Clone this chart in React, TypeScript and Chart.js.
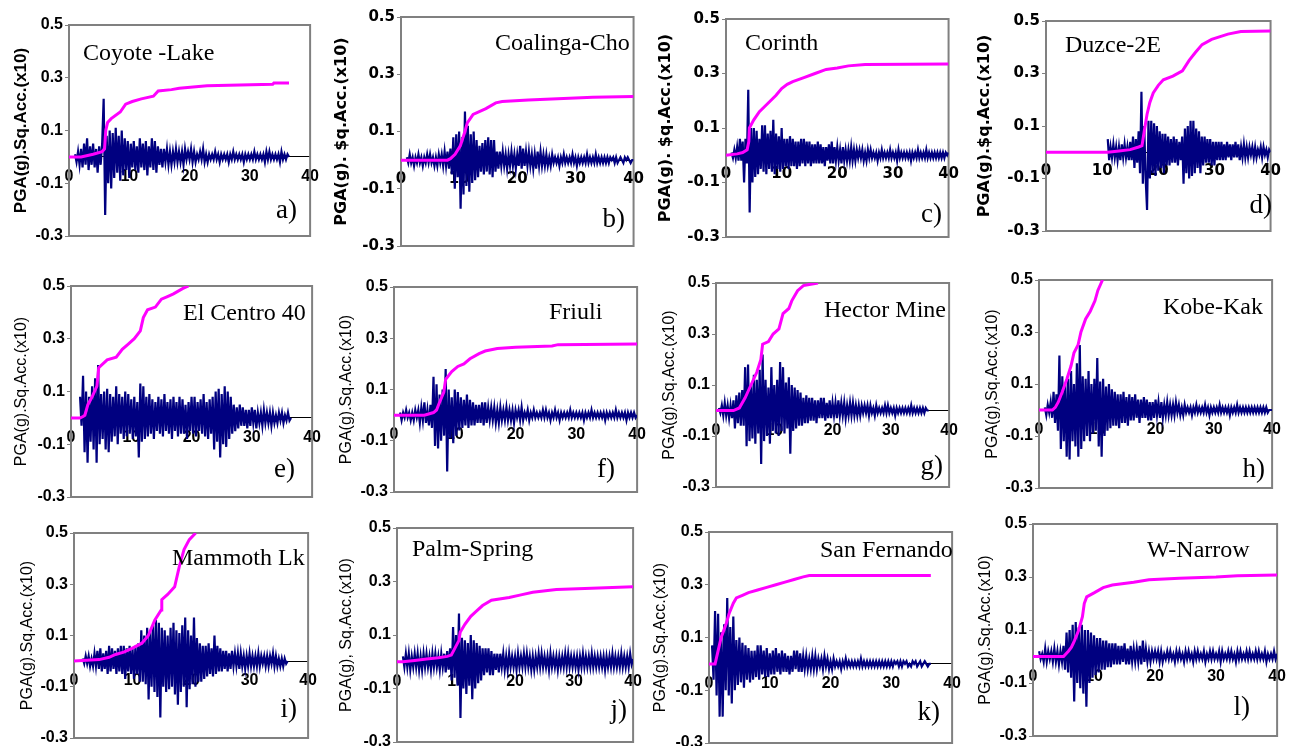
import React, { useEffect, useRef } from "react";
import { Chart, registerables } from "chart.js";

Chart.register(...registerables);

// ---------- DATA (values in hundredths: value * UNIT) ----------
const UNIT = 0.01;
const DT = 0.25; // sampling step of the read-off accelerograms (s)

const xTicks = [0, 10, 20, 30, 40];
const yTicks = [-0.3, -0.1, 0.1, 0.3, 0.5];

const panelNames = ["Coyote -Lake", "Coalinga-Cho", "Corinth", "Duzce-2E", "El Centro 40", "Friuli", "Hector Mine", "Kobe-Kak", "Mammoth Lk", "Palm-Spring", "San Fernando", "W-Narrow"];
const panelLetters = ["a)", "b)", "c)", "d)", "e)", "f)", "g)", "h)", "i)", "j)", "k)", "l)"];
const yTitles = [
  "PGA(g).Sq.Acc.(x10)", "PGA(g). $q.Acc.(x10)", "PGA(g). $q.Acc.(x10)", "PGA(g).$q.Acc.(x10)",
  "PGA(g).Sq.Acc.(x10)", "PGA(g).Sq.Acc.(x10)", "PGA(g).Sq.Acc.(x10)", "PGA(g),Sq.Acc.(x10)",
  "PGA(g).Sq.Acc.(x10)", "PGA(g), Sq.Acc.(x10)", "PGA(g).Sq.Acc.(x10)", "PGA(g).Sq.Acc.(x10)",
];

// start time (s) of each accelerogram
const accStarts = [1, 1, 1, 11, 1.5, 1, 0.5, 1, 1.5, 1, 0.5, 1];

const coyoteAcc = [1,-2,2,-3, 3,-4,5,-3, 7,-5,4,-3, 5,-4,3,-6, 4,-3,5,22, -22,8,-10,10, -12,9,-8,11, -6,8,-9,10, -7,7,-5,6, -8,5,-4,6, -5,4,-6,7, -4,5,-5,6, -7,4,-4,7, -5,6,-6,4, -3,3,-4,3, -2,3,-3,2, -3,2,-2,3, -2,2,-2,2, -3,3,-1,2, -1,3,-2,2, -2,1,-1,2, -1,3,-2,1, -2,1,-1,1, -1,2,-1,1, -2,1,-1,1, -1,1,-2,1, -1,2,-1,1, -1,1,-1,1, -2,1,-1,1, -1,1,-1,2, -1,1,-1,1, -1,1,-2,2, -1,2,-1,1, -1,1,-1,1, -2,2,-1,1, -1,1,0];
const coalingaAcc = [1,-1,2,-1, 1,-2,1,-1, 2,-1,1,-2, 1,-1,2,-1, 2,-1,1,-2, 1,-2,2,-1, 2,-2,3,-2, 3,-3,4,-5, 8,-10,9,-6, 10,-17,8,-12, 17,-9,12,-11, 9,-8,10,-7, 7,-6,5,-4, 6,-5,7,-4, 8,-5,7,-6, 7,-4,3,-3, 3,-2,3,-2, 2,-3,2,-2, 3,-2,2,-3, 2,-2,5,-3, 4,-2,3,-2, 3,-2,2,-3, 2,-3,3,-2, 3,-2,2,-2, 2,-2,1,-2, 2,-1,1,-1, 1,-2,1,-1, 2,-1,1,-1, 1,-1,2,-1, 1,-2,1,-1, 1,-1,1,-1, 2,-1,1,-1, 1,-1,2,-1, 1,-1,1,-1, 1,-1,1,-1, 1,0,1,-1, 1,-1,0,1, 0,-1,1,0, 1,0,-1,0, 0];
const corinthAcc = [1,-1,2,-1, 3,-2,6,-2, 5,-10,6,-3, 24,-21,10,-10, 10,-8,9,-7, 6,-5,11,-6, 11,-7,8,-5, 9,-6,13,-7, 8,-5,7,-6, 10,-5,6,-4, 6,-5,7,-4, 6,-4,5,-5, 5,-4,6,-3, 6,-4,5,-3, 5,-4,4,-3, 4,-3,5,-3, 4,-3,3,-4, 3,-2,4,-3, 5,-3,3,-2, 3,-2,2,-3, 3,-2,2,-2, 2,-2,3,-2, 2,-2,2,-1, 2,-1,2,-2, 1,-2,2,-1, 2,-1,1,-1, 1,-2,1,-1, 2,-1,1,-1, 1,-1,2,-1, 1,-1,1,-2, 2,-1,1,-1, 1,-1,1,-1, 1,-2,1,-1, 1,-1,2,-1, 1,-1,1,-1, 2,-1,1,-1, 1,-1,1,-1, 1,-1,1,-1, 1,-1,1,0, 1];
const duzceAcc = [5,-3,2,-2, 3,-2,2,-3, 2,-3,3,-2, 3,-2,2,-3, 4,-3,6,-6, 5,-4,8,-8, 23,-12,10,-10, -22,12,-10,12, -8,11,-9,10, -7,8,-6,7, -8,7,-5,6, -5,5,-4,6, -4,5,-5,4, -3,6,-12,9, -8,10,-10,12, -9,12,-8,9, -6,8,-8,6, -5,6,-4,5, -4,5,-5,4, -5,4,-3,4, -3,4,-3,3, -3,4,-2,3, -3,3,-2,4, -2,3,-3,2, -2,3,-2,2, -2,2,-1,2, -2,2,-2,1, -1,2,-2,2, -1,1,-2,1, 0];
const elCentroAcc = [8,-3,16,-13, 10,-17,8,-9, 12,-12,15,-17, 20,-10,9,-8, 10,-12,11,-13, 9,-9,8,-7, 12,-10,9,-6, 8,-8,10,-7, 9,-6,7,-8, 8,-7,6,-15, 13,-9,12,-8, 8,-7,9,-6, 7,-8,6,-5, 8,-6,7,-7, 9,-5,6,-6, 7,-8,8,-5, 6,-7,8,-6, 7,-6,5,-8, 6,-5,8,-6, 8,-7,6,-5, 7,-6,9,-7, 6,-8,7,-6, 8,-12,10,-9, 11,-15,9,-10, 12,-11,10,-8, 8,-6,5,-5, 4,-4,5,-3, 4,-3,3,-4, 3,-3,4,-2, 3,-4,2,-2, 2,-3,3,-2, 2,-2,2,-3, 2,-2,1,-2, 2,-1,2,-2, 1,-1,2,-1, 0];
const friuliAcc = [1,-2,1,-1, 2,-1,1,-2, 1,-2,2,-1, 2,-3,3,-2, 5,-3,2,-4, 4,-5,15,-12, 12,-13,8,-10, 10,-8,18,-22, 10,-9,7,-11, 10,-8,9,-6, 7,-5,6,-4, 8,-5,6,-4, 5,-4,4,-3, 4,-3,5,-4, 5,-3,3,-2, 3,-2,3,-3, 2,-3,3,-2, 2,-2,3,-2, 2,-2,2,-3, 2,-1,2,-2, 3,-2,1,-1, 2,-2,1,-1, 2,-1,1,-1, 1,-1,2,-1, 2,-1,1,-2, 1,-1,2,-1, 1,-2,1,-1, 1,-1,1,-1, 2,-1,1,-1, 1,-1,1,-1, 1,-2,1,-1, 1,-1,2,-1, 1,-1,1,-1, 1,-1,1,-2, 1,-1,1,-1, 1,-1,2,-1, 1,-1,1,-1, 1,-2,1,-1, 1,-1,1,-1, 0];
const hectorAcc = [1,-1,2,-2, 3,-2,2,-3, 2,-3,4,-7, 6,-5,7,-6, 8,-6,17,-14, 18,-12,10,-11, 14,-13,12,-9, 16,-21,22,-12, 12,-10,9,-13, 17,-8,10,-9, 12,-10,19,-8, 17,-9,11,-7, 13,-17,10,-8, 9,-7,8,-6, 7,-6,5,-5, 6,-5,5,-4, 5,-4,4,-5, 4,-3,5,-3, 5,-4,3,-3, 4,-3,3,-2, 3,-3,4,-2, 3,-2,3,-3, 2,-2,3,-2, 3,-2,2,-2, 2,-2,2,-1, 2,-1,2,-2, 2,-1,1,-2, 2,-1,1,-1, 1,-1,2,-1, 2,-1,1,-1, 1,-2,1,-1, 1,-1,1,-1, 1,-1,1,-1, 2,-1,1,-1, 1,-1,1,-1, 1,-1,1,0, 0];
const kobeAcc = [1,-2,2,-1, 3,-3,7,-5, 6,-8,21,-15, 13,-12,10,-18, 12,-19,15,-12, 10,-14,18,-18, 25,-15,13,-12, 12,-10,15,-12, 10,-9,12,-8, 20,-14,11,-18, 12,-10,9,-8, 10,-7,8,-6, 7,-6,6,-7, 6,-5,7,-5, 5,-6,6,-4, 5,-4,6,-3, 4,-5,4,-3, 5,-3,4,-4, 3,-4,3,-3, 4,-2,3,-3, 3,-3,2,-2, 3,-2,2,-2, 2,-2,3,-1, 2,-2,1,-2, 2,-1,1,-1, 1,-2,1,-1, 2,-1,1,-1, 1,-1,2,-1, 1,-2,1,-1, 1,-1,1,-1, 2,-1,1,-1, 1,-1,1,-2, 1,-1,1,-1, 2,-1,1,-1, 1,-1,1,-1, 1,-1,1,-1, 1,-1,1,-1, 1,-1,1,-1, 1,-1,0,0, 0];
const mammothAcc = [1,-1,2,-1, 2,-2,1,-2, 3,-2,4,-3, 5,-4,3,-3, 4,-5,6,-4, 5,-3,4,-5, 5,-4,6,-5, 6,-7,5,-4, 6,-5,5,-7, 6,-5,7,-8, 12,-8,10,-9, 13,-15,12,-10, 14,-12,16,-14, 15,-22,13,-10, 12,-12,10,-11, 13,-10,15,-13, 12,-17,11,-12, 14,-10,17,-18, 12,-11,10,-9, 17,-10,9,-8, 7,-8,6,-7, 6,-6,7,-5, 5,-6,10,-5, 6,-4,5,-4, 4,-3,4,-4, 3,-3,4,-2, 3,-2,3,-3, 3,-2,2,-3, 2,-2,3,-2, 2,-2,2,-2, 3,-2,2,-1, 2,-2,2,-2, 2,-1,3,-2, 2,-2,1,-2, 1,-2,1,-1, 0];
const palmSpringAcc = [2,-2,3,-2, 3,-3,2,-2, 3,-2,3,-3, 2,-3,3,-2, 3,-2,2,-3, 3,-2,3,-2, 2,-3,3,-2, 3,-4,4,-3, 5,-7,13,-6, 10,-9,18,-21, 9,-10,8,-12, 7,-9,10,-14, 8,-10,7,-8, 6,-7,5,-5, 5,-4,5,-5, 4,-5,3,-3, 3,-4,3,-2, 3,-3,2,-3, 3,-2,2,-2, 2,-3,3,-2, 2,-2,3,-2, 3,-2,2,-3, 2,-3,2,-2, 3,-2,3,-2, 2,-2,2,-3, 3,-2,2,-2, 2,-3,2,-2, 2,-2,3,-2, 3,-2,2,-2, 2,-2,2,-3, 2,-2,3,-2, 2,-2,2,-2, 3,-2,2,-2, 2,-2,2,-2, 2,-3,2,-2, 2,-2,3,-2, 2,-2,2,-2, 3,-2,2,-2, 2,-2,3,-1, 1];
const sanFernandoAcc = [7,-6,20,-12, 19,-20,12,-20, 15,-10,25,-12, 14,-15,18,-10, 9,-8,10,-7, 8,-9,7,-6, 6,-7,5,-6, 5,-5,7,-6, 7,-4,5,-5, 6,-5,4,-4, 5,-4,6,-3, 4,-4,5,-3, 4,-3,3,-4, 3,-3,5,-2, 5,-3,4,-3, 3,-2,3,-2, 2,-2,3,-2, 3,-2,2,-1, 2,-2,3,-1, 2,-2,1,-2, 2,-1,1,-1, 1,-2,1,-1, 2,-1,1,-1, 1,-1,1,-1, 1,-1,2,-1, 1,-1,1,-1, 1,-1,1,-1, 1,-1,1,-1, 1,-1,1,-1, 1,-1,1,-1, 1,0,1,-1, 1,-1,1,0, 1,-1,0,-1, 1,0,1,-1, 0,1,-1,0, 1,0,-1,0, 0];
const wNarrowAcc = [2,-1,1,-2, 3,-2,2,-1, 2,-2,3,-2, 2,-3,2,-2, 4,-5,9,-6, 10,-8,12,-17, 13,-10,11,-12, 12,-14,10,-19, 10,-10,9,-8, 8,-7,7,-6, 7,-5,6,-5, 6,-4,5,-4, 5,-3,5,-3, 4,-3,4,-2, 5,-3,3,-3, 4,-2,3,-2, 3,-2,4,-3, 6,-2,3,-2, 2,-2,2,-1, 2,-1,2,-2, 2,-2,1,-1, 2,-1,2,-1, 1,-2,2,-1, 2,-1,1,-2, 2,-1,2,-1, 1,-2,2,-1, 2,-1,1,-1, 2,-2,1,-1, 2,-1,2,-1, 1,-1,2,-2, 2,-1,1,-1, 2,-1,2,-1, 1,-2,2,-1, 2,-1,1,-1, 2,-1,2,-1, 1,-1,2,-1, 2,-1,1,-1, 2,-2,1,-1, 1,-1,2,-1, 1];

// Husid (cumulative squared acceleration) curves: [time s, value in hundredths]
const coyoteHusid = [[0,0],[2,0],[4,1],[5.5,2],[5.9,3],[6.1,10],[6.4,13],[7,14.5],[8.5,17],[9.4,20],[10.5,21],[12,22],[14,23],[14.8,25],[17,25.5],[18.3,26],[22.9,27],[33.8,27.5],[34,28],[36.5,28]];
const coalingaHusid = [[0,0],[8,0],[8.5,0.5],[9.3,2],[10.2,5],[11,10],[11.4,13],[12.4,16],[14.6,18],[16.3,20],[17.4,20.5],[21.9,21],[33,22],[40,22.2]];
const corinthHusid = [[0,0],[2,0.5],[3,1],[3.8,2],[4.1,5],[4.2,10],[5,13],[6,16],[7,18],[8,20],[9,22],[10,24.5],[11,26],[12,27],[14,28.5],[16,30],[18,31.5],[20,32],[22,32.8],[25,33.3],[40,33.5]];
const duzceHusid = [[0,0],[11,0],[13,0.5],[15,1],[16.5,2],[17.1,2.5],[17.5,8],[18,14.5],[18.5,19],[19.1,22.6],[20,25.5],[20.9,27.6],[22.6,29],[24.3,31],[25.5,35],[26.6,38],[27.8,41],[29.5,43],[32.4,45],[34.7,46],[40,46.2]];
const elCentroHusid = [[0,0],[1.5,0],[2,0.5],[2.3,1],[2.8,5],[3.5,8],[4.3,12],[4.6,19],[6,22],[7.5,23],[8.5,26],[9.5,28],[10.5,30],[11.5,33],[12,38],[12.7,41],[14,42],[15,45],[16,46],[17,47],[18.5,49],[19.5,50]];
const friuliHusid = [[0,0],[5,0],[6.5,1],[7,2],[7.5,5],[8.2,9],[8.5,14],[9.5,17],[10.5,19],[11.5,20],[12.5,22],[14,24],[15,25],[17,26],[20,26.5],[26,27],[27,27.5],[40,27.8]];
const hectorHusid = [[0,0],[3,0],[4,1],[5,5],[6,10],[7,15],[7.7,20],[8,26],[9,27],[9.8,30],[10.8,32],[11.5,38],[12.5,40],[13,43],[14,47],[15,49],[17.5,50]];
const kobeHusid = [[0,0],[2.3,0],[2.8,1],[3.3,3],[4,7],[4.8,12],[5.5,17],[6,22],[6.7,25],[7.2,30],[8,35],[8.8,38],[9.6,42],[10.1,46],[10.9,50]];
const mammothHusid = [[0,0],[4.3,0.6],[6,1.5],[7.1,2.6],[8.5,3.5],[9.9,5],[11.6,7],[12.7,10],[13.8,16],[14.9,20],[15,24],[16,26],[17.2,29],[18,37],[18.8,43.5],[19.7,47.4],[20.8,50]];
const palmSpringHusid = [[0,0],[1,0],[3,0.5],[5,1],[7,1.5],[8.5,2],[9.2,2.5],[9.8,5],[10.5,8],[10.7,11],[11.5,14],[12.5,17],[13.5,19],[14.5,21],[16,23],[19,24],[21,25],[23,26],[27,27],[33,27.5],[40,28]];
const sanFernandoHusid = [[0,0],[1,0],[1.2,2],[1.6,6],[2,10],[2.8,15],[3.3,19],[4,23],[4.5,25],[5.5,26],[6.5,27],[8,28],[9.5,29],[11,30],[12.5,31],[14,32],[15.5,33],[16.5,33.5],[36.5,33.5]];
const wNarrowHusid = [[0,0],[5,0],[5.8,2],[6.3,3.5],[6.8,6],[7.5,10],[8.1,15],[8.4,20],[8.8,22.5],[10,24],[11.5,26],[13,27],[16.5,28],[19,29],[24,29.5],[30,30],[33.5,30.5],[40,30.8]];

const accSeries = [coyoteAcc, coalingaAcc, corinthAcc, duzceAcc, elCentroAcc, friuliAcc, hectorAcc, kobeAcc, mammothAcc, palmSpringAcc, sanFernandoAcc, wNarrowAcc];
const husidSeries = [coyoteHusid, coalingaHusid, corinthHusid, duzceHusid, elCentroHusid, friuliHusid, hectorHusid, kobeHusid, mammothHusid, palmSpringHusid, sanFernandoHusid, wNarrowHusid];

// ---------- LAYOUT (page pixels) ----------
const plotRects = [
  [69, 25, 315, 236], [401, 17, 640, 246], [726, 19, 955, 237], [1046, 21, 1277, 231],
  [71, 286, 317, 497], [394, 287, 642, 492], [716, 283, 954, 487], [1039, 280, 1277, 488],
  [74, 533, 313, 738], [397, 528, 638, 742], [709, 532, 957, 743], [1033, 524, 1282, 736],
];
const titleCenters = [21, 342, 666, 985, 22, 347, 670, 993, 28, 347, 661, 986];
const namePos = [[83, 60], [495, 50], [745, 50], [1065, 52], [183, 320], [549, 319], [824, 317], [1163, 314], [172, 565], [412, 556], [820, 557], [1147, 557]];
const letterPos = [[297, 218], [625, 227], [942, 222], [1272, 213], [295, 477], [615, 477], [943, 474], [1265, 477], [297, 717], [627, 718], [940, 720], [1250, 715]];

const SANS = "'Liberation Sans', Arial, sans-serif";
const DEJAVU = "'DejaVu Sans', sans-serif";
const SERIF = "'Liberation Serif', 'Times New Roman', serif";

const STYLE_A = { tick: { family: SANS, size: 16, weight: "bold" }, title: { family: SANS, size: 17, weight: "bold", lineHeight: 1 } };
const STYLE_B = { tick: { family: DEJAVU, size: 15, weight: "bold" }, title: { family: DEJAVU, size: 16, weight: "bold", lineHeight: 1 } };
const STYLE_C = { tick: { family: SANS, size: 16, weight: "bold" }, title: { family: SANS, size: 16, weight: "normal", lineHeight: 1 } };
const panelStyles = [STYLE_A, STYLE_B, STYLE_B, STYLE_B, STYLE_C, STYLE_C, STYLE_C, STYLE_C, STYLE_C, STYLE_C, STYLE_C, STYLE_C];

const PAD_T = 14;
const PAD_B = 14;
const PAD_R = 14;

function frameOf(i: number) {
  const [l, t, r, b] = plotRects[i];
  const ts = panelStyles[i].title.size;
  const left = Math.round(titleCenters[i] - ts / 2);
  const top = t - PAD_T;
  return { left, top, width: r - left + PAD_R, height: b - t + PAD_T + PAD_B, axisW: l - left };
}

const plotFrame = {
  id: "plotFrame",
  beforeDatasetsDraw(chart: any) {
    const { left, top, right, bottom } = chart.chartArea;
    const ctx = chart.ctx;
    ctx.save();
    ctx.strokeStyle = "#808080";
    ctx.lineWidth = 2;
    ctx.strokeRect(left, top, right - left, bottom - top);
    ctx.restore();
  },
};

const panelText = {
  id: "panelText",
  afterDatasetsDraw(chart: any, _args: any, opts: any) {
    const ctx = chart.ctx;
    ctx.save();
    ctx.fillStyle = "#000";
    ctx.textBaseline = "alphabetic";
    ctx.font = `24px ${SERIF}`;
    ctx.textAlign = "left";
    ctx.fillText(opts.name, opts.nameX, opts.nameY);
    ctx.font = `27px ${SERIF}`;
    ctx.textAlign = "right";
    ctx.fillText(opts.letter, opts.letterX, opts.letterY);
    ctx.restore();
  },
};

function makeChart(canvas: HTMLCanvasElement, i: number) {
  const f = frameOf(i);
  const st = panelStyles[i];
  const accData = accSeries[i].map((v, k) => ({ x: accStarts[i] + k * DT, y: v * UNIT }));
  const husData = husidSeries[i].map(([x, v]) => ({ x, y: v * UNIT }));
  return new Chart(canvas, {
    type: "line",
    data: {
      datasets: [
        { label: "Sq.Acc.", data: husData, borderColor: "#FF00FF", backgroundColor: "#FF00FF", borderWidth: 3, pointRadius: 0, tension: 0, order: 0 },
        { label: "PGA", data: accData, borderColor: "#000080", backgroundColor: "#000080", borderWidth: 2.2, pointRadius: 0, tension: 0, order: 1 },
      ],
    },
    options: {
      responsive: false,
      animation: false,
      events: [],
      layout: { autoPadding: false, padding: { left: 0, top: PAD_T, right: PAD_R, bottom: PAD_B } },
      plugins: {
        legend: { display: false },
        tooltip: { enabled: false },
        panelText: {
          name: panelNames[i],
          nameX: namePos[i][0] - f.left,
          nameY: namePos[i][1] - f.top,
          letter: panelLetters[i],
          letterX: letterPos[i][0] - f.left,
          letterY: letterPos[i][1] - f.top,
        },
      } as any,
      scales: {
        x: {
          type: "linear",
          position: { y: 0 } as any,
          min: 0,
          max: 40,
          afterBuildTicks: (s: any) => { s.ticks = xTicks.map((v) => ({ value: v })); },
          grid: { display: true, drawOnChartArea: false, drawTicks: false },
          border: { display: true, color: "#000", width: 1 },
          ticks: { font: st.tick as any, color: "#000", padding: 10, maxRotation: 0, autoSkip: false, callback: (v: any) => String(v) },
        },
        y: {
          type: "linear",
          position: "left",
          min: -0.3,
          max: 0.5,
          afterBuildTicks: (s: any) => { s.ticks = yTicks.map((v) => ({ value: v })); },
          afterFit: (s: any) => { s.width = f.axisW; },
          grid: { display: true, drawOnChartArea: false, drawTicks: true, tickLength: 4, color: "#808080", lineWidth: 1 },
          border: { display: true, color: "#808080", width: 2 },
          ticks: { font: st.tick as any, color: "#000", padding: 2, callback: (v: any) => Number(v).toFixed(1) },
          title: { display: true, text: yTitles[i], font: st.title as any, color: "#000", padding: 0 },
        },
      },
    },
    plugins: [plotFrame, panelText],
  } as any);
}

export default function App() {
  const refs = useRef<(HTMLCanvasElement | null)[]>([]);
  useEffect(() => {
    document.body.style.margin = "0";
    document.body.style.overflow = "hidden";
    const charts = refs.current.map((c, i) => (c ? makeChart(c, i) : null));
    return () => { charts.forEach((ch) => ch && ch.destroy()); };
  }, []);
  return (
    <div style={{ position: "absolute", left: 0, top: 0, width: 1296, height: 746, overflow: "hidden", background: "#fff" }}>
      {plotRects.map((_, i) => {
        const f = frameOf(i);
        return (
          <canvas
            key={i}
            ref={(el) => { refs.current[i] = el; }}
            width={f.width}
            height={f.height}
            style={{ position: "absolute", left: f.left, top: f.top, width: f.width, height: f.height }}
          />
        );
      })}
    </div>
  );
}
